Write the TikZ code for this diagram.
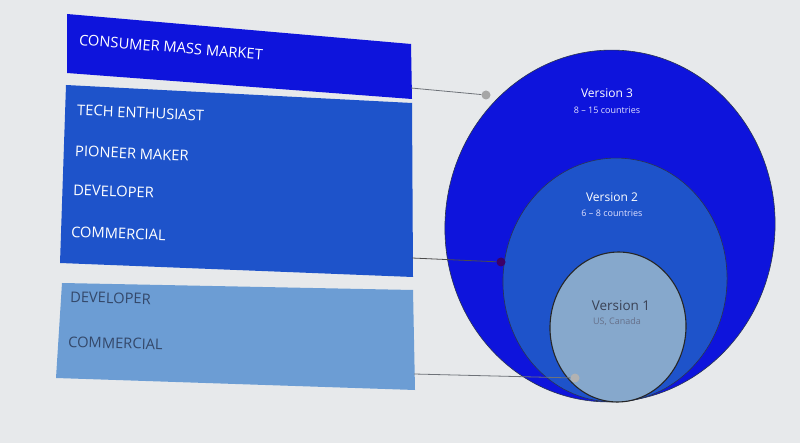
\documentclass[tikz,border=0pt]{standalone}
\usepackage{fontspec}
\setmainfont{Open Sans}
\definecolor{bg}{HTML}{E7E9EB}
\definecolor{cA}{HTML}{0E14DC}
\definecolor{cB}{HTML}{1E53CA}
\definecolor{cC}{HTML}{6C9DD4}
\definecolor{cS}{HTML}{86A8CC}
\definecolor{dk}{HTML}{2A3550}
\definecolor{txtC}{HTML}{34486A}
\definecolor{txtS}{HTML}{3A4255}
\definecolor{txtU}{HTML}{66708A}
\definecolor{lineg}{HTML}{6E7278}
\tikzset{
  lbl/.style={anchor=west, inner sep=0pt, text=white, font=\fontsize{14.7}{17}\selectfont},
  lblC/.style={lbl, text=txtC},
  vhead/.style={inner sep=0pt, font=\fontsize{12}{14}\selectfont},
  vsub/.style={inner sep=0pt, font=\fontsize{9}{11}\selectfont},
  dotg/.style={circle, fill=#1, minimum size=9pt, inner sep=0pt},
  conn/.style={draw=lineg, line width=0.8pt}
}
\begin{document}
\begin{tikzpicture}[x=1pt,y=-1pt]
\useasboundingbox (0,0) rectangle (800,443);
\fill[bg] (0,0) rectangle (800,443);
% boxes
\fill[cA] (67,14) -- (411,44) -- (412,99) -- (67,73) -- cycle;
\fill[cB] (66,85) -- (412,103) -- (413,277) -- (60,263) -- cycle;
\fill[cC] (62,283) -- (413,290) -- (415,390) -- (56,378) -- cycle;
\coordinate (b3r) at (411,88);
\coordinate (b2r) at (412,258);
\coordinate (b1r) at (414,374);
% labels
\node[lbl, rotate=-4.5] (t1) at (79,40) {CONSUMER MASS MARKET};
\node[lbl, rotate=-2.5] (t2) at (77,110) {TECH ENTHUSIAST};
\node[lbl, rotate=-2.5] (t3) at (75,151) {PIONEER MAKER};
\node[lbl, rotate=-2] (t4) at (73,190) {DEVELOPER};
\node[lbl, rotate=-2] (t5) at (71,232) {COMMERCIAL};
\node[lblC, rotate=-1.5] (t6) at (70,297) {DEVELOPER};
\node[lblC, rotate=-1.5] (t7) at (68,342) {COMMERCIAL};
% ellipses
\filldraw[fill=cA, draw=dk, line width=0.6pt, rotate around={-5:(610,226)}] (610,226) ellipse [x radius=165, y radius=176];
\filldraw[fill=cB, draw=dk, line width=0.6pt, rotate around={-4:(615,280)}] (615,280) ellipse [x radius=112, y radius=122];
\filldraw[fill=cS, draw=black!85, line width=1.1pt, rotate around={-3:(618,327)}] (618,327) ellipse [x radius=68, y radius=75];
% ellipse texts
\node[vhead, text=white] (v3) at (607,93) {Version 3};
\node[vsub, text=white!88!blue] (v3s) at (607,110) {8 -- 15 countries};
\node[vhead, text=white] (v2) at (612,197) {Version 2};
\node[vsub, text=white!88!blue] (v2s) at (612,213) {6 -- 8 countries};
\node[vhead, text=txtS, font=\fontsize{13.5}{15}\selectfont] (v1) at (621,306) {Version 1};
\node[vsub, text=txtU] (v1s) at (617,322) {US, Canada};
% dots and connectors
\node[dotg=gray!70] (d3) at (486,95) {};
\node[dotg={black!60!red!60!blue}] (d2) at (501,262) {};
\node[dotg=gray!60] (d1) at (575,378) {};
\draw[conn] (b3r) -- (d3);
\draw[conn, draw=black!70] (b2r) -- (d2);
\draw[conn] (b1r) -- (d1);
\end{tikzpicture}
\end{document}
